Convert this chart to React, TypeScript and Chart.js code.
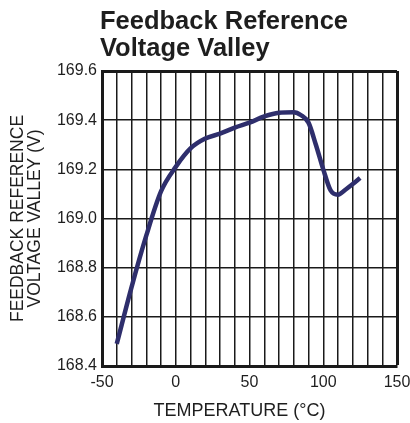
import React, { useEffect, useRef } from "react";
import { Chart, registerables } from "chart.js";

Chart.register(...registerables);

const titleLines = ["Feedback Reference", "Voltage Valley"];
const yTitleLines = ["FEEDBACK REFERENCE", "VOLTAGE VALLEY (V)"];
const xTitle = "TEMPERATURE (°C)";

const temps = [-40, -30, -20, -10, 0, 10, 20, 30, 40, 50, 60, 70, 80, 85, 90, 95, 100, 105, 110, 115, 120, 125];
const volts = [168.49, 168.72, 168.93, 169.11, 169.21, 169.285, 169.325, 169.345, 169.37, 169.39, 169.415, 169.43, 169.432, 169.42, 169.39, 169.3, 169.2, 169.114, 169.097, 169.117, 169.14, 169.165];

const xMin = -50;
const xMax = 150;
const xStep = 10;
const xLabelEvery = 50;
const yMin = 168.4;
const yMax = 169.6;
const yStep = 0.2;

const FONT = "'Liberation Sans', Arial, Helvetica, sans-serif";
const TEXT = "#1e1e1e";
const GRID = "#1a1a1a";
const LINE = "#2e2e6c";

export default function App() {
  const ref = useRef<HTMLCanvasElement | null>(null);

  useEffect(() => {
    if (!ref.current) return;
    const textPlugin = {
      id: "texts",
      afterDraw(chart: any) {
        const { ctx, chartArea } = chart;
        ctx.save();
        ctx.fillStyle = TEXT;
        ctx.textAlign = "left";
        ctx.textBaseline = "alphabetic";
        ctx.font = `bold 25.5px ${FONT}`;
        ctx.fillText(titleLines[0], chartArea.left - 2, 29);
        ctx.fillText(titleLines[1], chartArea.left - 2, 56);
        ctx.font = `18px ${FONT}`;
        ctx.textAlign = "center";
        ctx.fillText(xTitle, (chartArea.left + chartArea.right) / 2 - 10, 416);
        ctx.restore();
      },
    };

    const chart = new Chart(ref.current, {
      type: "line",
      data: {
        datasets: [
          {
            data: temps.map((t, i) => ({ x: t, y: volts[i] })),
            borderColor: LINE,
            borderWidth: 4.5,
            pointRadius: 0,
            fill: false,
            cubicInterpolationMode: "monotone",
            borderCapStyle: "butt",
          },
        ],
      },
      options: {
        responsive: false,
        animation: false,
        devicePixelRatio: 1,
        layout: { padding: { top: 71, right: 0, left: 0, bottom: 0 } },
        plugins: { legend: { display: false }, tooltip: { enabled: false }, title: { display: false } },
        scales: {
          x: {
            type: "linear",
            min: xMin,
            max: xMax,
            afterFit: (s: any) => {
              s.height = 57;
              s.paddingRight = 13;
            },
            ticks: {
              stepSize: xStep,
              autoSkip: false,
              maxRotation: 0,
              padding: 7,
              color: TEXT,
              font: { family: FONT, size: 16 },
              callback: (v: any) => (Math.round(v) % xLabelEvery === 0 ? String(Math.round(v)) : ""),
            },
            grid: {
              drawTicks: false,
              color: GRID,
              lineWidth: (c: any) => (c.tick && Math.abs(c.tick.value - xMax) < 1e-6 ? 3 : 1.5),
            },
            border: { display: true, color: GRID, width: 3 },
          },
          y: {
            type: "linear",
            min: yMin,
            max: yMax,
            afterFit: (s: any) => {
              s.width = 102;
            },
            ticks: {
              stepSize: yStep,
              padding: 5,
              color: TEXT,
              font: { family: FONT, size: 16 },
              callback: (v: any) => Number(v).toFixed(1),
            },
            grid: {
              drawTicks: false,
              color: GRID,
              lineWidth: (c: any) => (c.tick && Math.abs(c.tick.value - yMax) < 1e-6 ? 3 : 1.5),
            },
            border: { display: true, color: GRID, width: 3 },
            title: {
              display: true,
              text: yTitleLines,
              color: TEXT,
              font: { family: FONT, size: 17.5, lineHeight: 1.0 },
              padding: { top: 9, bottom: 0 },
            },
          },
        },
      },
      plugins: [textPlugin],
    });
    return () => chart.destroy();
  }, []);

  return (
    <div style={{ position: "fixed", left: 0, top: 0, width: 410, height: 423, background: "#fff" }}>
      <canvas ref={ref} width={410} height={423} style={{ width: 410, height: 423 }} />
    </div>
  );
}
